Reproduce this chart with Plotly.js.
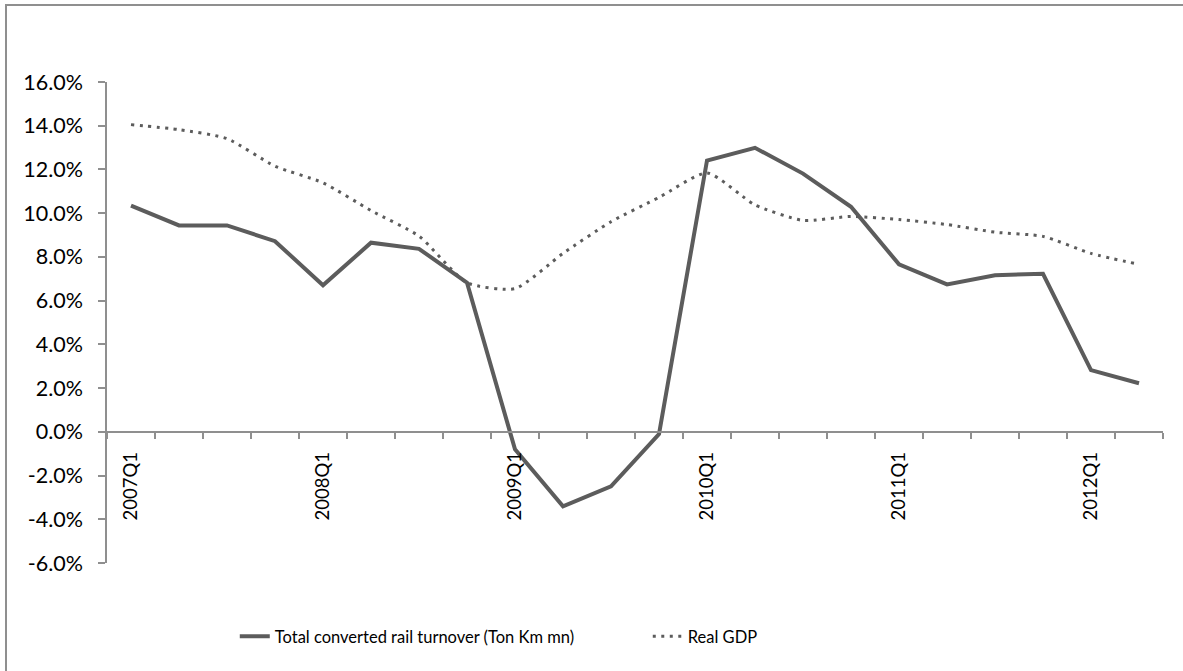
<!DOCTYPE html>
<html>
<head>
<meta charset="utf-8">
<script src="https://cdn.plot.ly/plotly-3.0.1.min.js"></script>
<style>
  html, body { margin: 0; padding: 0; background: #fff; }
  #wrap { position: relative; width: 1183px; height: 671px; overflow: hidden; }
  #frame { position: absolute; left: 5px; top: 4px; width: 1300px; height: 800px;
           border-left: 2px solid #8f8f8f; border-top: 2px solid #8f8f8f; box-sizing: border-box; pointer-events: none; z-index: 5; }
  #chart { position: absolute; left: 0; top: 0; width: 1183px; height: 671px; }
</style>
</head>
<body>
<div id="wrap">
  <div id="chart"></div>
  <div id="frame"></div>
</div>
<script>
// ---- data ----
const quarters = ['2007Q1','2007Q2','2007Q3','2007Q4',
                  '2008Q1','2008Q2','2008Q3','2008Q4',
                  '2009Q1','2009Q2','2009Q3','2009Q4',
                  '2010Q1','2010Q2','2010Q3','2010Q4',
                  '2011Q1','2011Q2','2011Q3','2011Q4',
                  '2012Q1','2012Q2'];
const railTurnover = [10.35, 9.44, 9.44, 8.72,
                      6.70, 8.65, 8.37, 6.82,
                      -0.8, -3.41, -2.49, -0.1,
                      12.41, 12.99, 11.81, 10.29,
                      7.66, 6.74, 7.16, 7.23,
                      2.82, 2.22];
const realGDP = [14.05, 13.82, 13.41, 12.15,
                 11.39, 10.12, 8.95, 6.82,
                 6.55, 8.16, 9.61, 10.72,
                 11.84, 10.38, 9.67, 9.85,
                 9.71, 9.48, 9.13, 8.94,
                 8.16, 7.66];
const seriesNames = ['Total converted rail turnover (Ton Km mn)', 'Real GDP'];
const yTickValues = [-6, -4, -2, 0, 2, 4, 6, 8, 10, 12, 14, 16];
const yRange = [-6, 16];

// ---- chart ----
const xIdx = quarters.map((q, i) => i);
const labelIdx = xIdx.filter(i => quarters[i].endsWith('Q1'));
const labelText = labelIdx.map(i => quarters[i]);
const yTickText = yTickValues.map(v => v.toFixed(1) + '%');
const axisGray = '#8f8f8f';
const lineGray = '#5c5c5c';

const traces = [
  {
    x: xIdx, y: railTurnover, text: quarters, type: 'scatter', mode: 'lines',
    name: seriesNames[0],
    line: { color: lineGray, width: 4 },
    hovertemplate: '%{text}: %{y:.1f}%<extra></extra>'
  },
  {
    x: xIdx, y: realGDP, text: quarters, type: 'scatter', mode: 'lines',
    name: seriesNames[1],
    line: { color: lineGray, width: 3, dash: '3px,5.5px', shape: 'spline', smoothing: 0.6 },
    hovertemplate: '%{text}: %{y:.1f}%<extra></extra>'
  }
];

const layout = {
  width: 1183, height: 671,
  paper_bgcolor: '#ffffff', plot_bgcolor: '#ffffff',
  margin: { l: 107, r: 20, t: 82, b: 108 },
  font: { family: 'Lato, "Open Sans", sans-serif', color: '#000000', size: 19 },
  showlegend: true,
  legend: {
    orientation: 'h', x: 0.121, xanchor: 'left', y: -0.153, yanchor: 'middle',
    font: { size: 16.5, color: '#000' }, entrywidth: 368, entrywidthmode: 'pixels',
    bgcolor: 'rgba(0,0,0,0)'
  },
  xaxis: {
    range: [-0.5, quarters.length - 0.5],
    anchor: 'free',
    position: (0 - yRange[0]) / (yRange[1] - yRange[0]),
    tickmode: 'array', tickvals: labelIdx, ticktext: labelText,
    ticks: '', tickangle: -90,
    ticklabelstandoff: 12,
    tickfont: { size: 18.5 },
    showline: true, linecolor: axisGray, linewidth: 1.5,
    showgrid: false, zeroline: false,
    minor: { ticks: 'outside', tickmode: 'linear', tick0: -0.5, dtick: 1, ticklen: 6, tickwidth: 1.5, tickcolor: axisGray, showgrid: false }
  },
  yaxis: {
    range: yRange,
    tickmode: 'array', tickvals: yTickValues, ticktext: yTickText,
    ticks: 'outside', ticklen: 7, tickwidth: 1.5, tickcolor: axisGray,
    ticklabelstandoff: 11,
    showline: true, linecolor: axisGray, linewidth: 1.5,
    showgrid: false, zeroline: false,
    tickfont: { size: 21.5 }
  }
};

Plotly.newPlot('chart', traces, layout, { displayModeBar: false, responsive: false });
</script>
</body>
</html>
